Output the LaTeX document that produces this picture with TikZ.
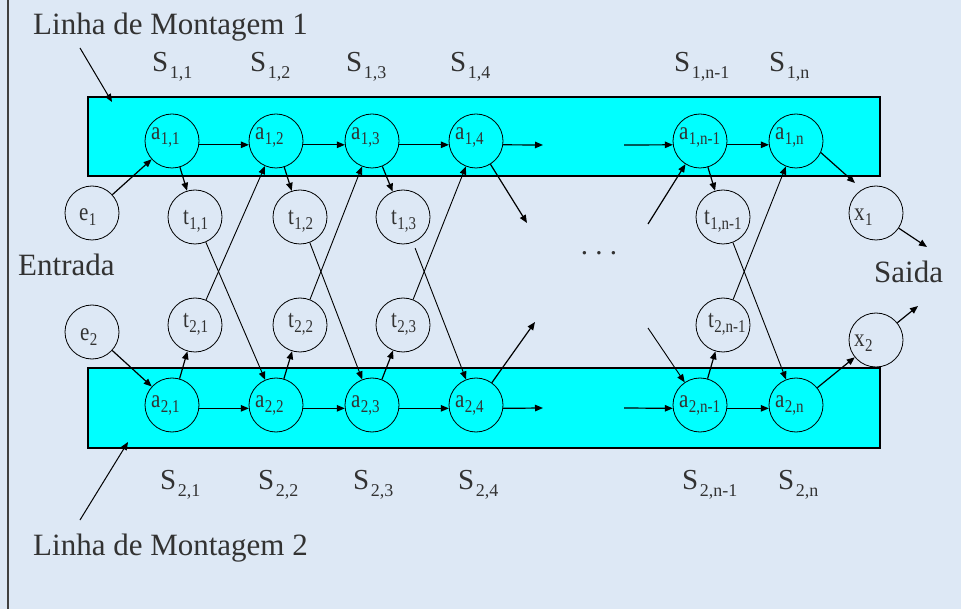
\documentclass[tikz,border=0pt]{standalone}
\usepackage{fontspec}
\setmainfont{Liberation Serif}
\usetikzlibrary{arrows.meta,calc}
\definecolor{bgblue}{RGB}{221,232,245}
\definecolor{txtgray}{RGB}{50,50,50}
\definecolor{lanecyan}{RGB}{0,255,255}
\newcommand{\clab}[4]{\makebox[0pt][l]{\hspace*{#1}\raisebox{#2}{\scalebox{1}[1.2]{\fontsize{21}{21}\selectfont #3\hspace{0.5pt}\raisebox{-3.5pt}{\fontsize{15}{15}\selectfont #4}}}}}
\newcommand{\slab}[1]{S\hspace{1.5pt}\raisebox{-7pt}{\fontsize{18}{18}\selectfont #1}}
\begin{document}
\begin{tikzpicture}[x=1pt,y=-1pt,
  circ/.style={circle,draw=black,line width=0.8pt,minimum size=54pt,inner sep=0pt,text height=0pt,text depth=0pt,text=txtgray},
  arr/.style={-{Triangle[length=8pt,width=6.5pt]},line width=1.2pt},
  thinarr/.style={-{Triangle[length=8pt,width=6.5pt]},line width=0.9pt},
  lane/.style={fill=lanecyan,draw=black,line width=1.2pt},
  bigtxt/.style={inner sep=0pt,text=txtgray,font=\fontsize{31}{36}\selectfont,anchor=base west},
  stxt/.style={inner sep=0pt,text=txtgray,font=\fontsize{29}{32}\selectfont,anchor=base west}]
\useasboundingbox (0,0) rectangle (961,609);
\fill[bgblue] (0,0) rectangle (961,609);
\draw[black!75,line width=2pt] (8,0) -- (8,609);
% lanes
\draw[lane] (88,97) rectangle (880,176);
\draw[lane] (88,368) rectangle (880,448);
% texts
\node[bigtxt] (lm1) at (33,35) {Linha de Montagem 1};
\node[bigtxt] (lm2) at (33,555) {Linha de Montagem 2};
\node[bigtxt] (ent) at (18,276) {Entrada};
\node[bigtxt] (sai) at (874,283) {Saida};
\node[inner sep=0pt,text=txtgray,font=\fontsize{29}{30}\selectfont,anchor=base] (dots) at (599,255) {.\ .\ .};
% S labels
\node[stxt] (s11) at (152,72) {\slab{1,1}};
\node[stxt] (s12) at (250,72) {\slab{1,2}};
\node[stxt] (s13) at (346,72) {\slab{1,3}};
\node[stxt] (s14) at (450,72) {\slab{1,4}};
\node[stxt] (s1n1) at (674,72) {\slab{1,n-1}};
\node[stxt] (s1n) at (769,72) {\slab{1,n}};
\node[stxt] (s21) at (160,489) {\slab{2,1}};
\node[stxt] (s22) at (258,489) {\slab{2,2}};
\node[stxt] (s23) at (353,489) {\slab{2,3}};
\node[stxt] (s24) at (458,489) {\slab{2,4}};
\node[stxt] (s2n1) at (682,489) {\slab{2,n-1}};
\node[stxt] (s2n) at (778,489) {\slab{2,n}};
% circles
\node[circ] (a11) at (172,141) {\clab{-21pt}{1pt}{a}{1,1}};
\node[circ] (a12) at (276,141) {\clab{-21pt}{1pt}{a}{1,2}};
\node[circ] (a13) at (372,141) {\clab{-21pt}{1pt}{a}{1,3}};
\node[circ] (a14) at (476,141) {\clab{-21pt}{1pt}{a}{1,4}};
\node[circ] (a1n1) at (700,141) {\clab{-21pt}{1pt}{a}{1,n-1}};
\node[circ] (a1n) at (796,141) {\clab{-21pt}{1pt}{a}{1,n}};
\node[circ] (a21) at (172,405) {\clab{-21pt}{-3pt}{a}{2,1}};
\node[circ] (a22) at (276,405) {\clab{-21pt}{-3pt}{a}{2,2}};
\node[circ] (a23) at (372,405) {\clab{-21pt}{-3pt}{a}{2,3}};
\node[circ] (a24) at (476,405) {\clab{-21pt}{-3pt}{a}{2,4}};
\node[circ] (a2n1) at (700,405) {\clab{-21pt}{-3pt}{a}{2,n-1}};
\node[circ] (a2n) at (796,405) {\clab{-21pt}{-3pt}{a}{2,n}};
\node[circ] (t11) at (195,217) {\clab{-12pt}{-8pt}{t}{1,1}};
\node[circ] (t12) at (300,217) {\clab{-12pt}{-8pt}{t}{1,2}};
\node[circ] (t13) at (403,217) {\clab{-12pt}{-8pt}{t}{1,3}};
\node[circ] (t1n1) at (723,217) {\clab{-19pt}{-8pt}{t}{1,n-1}};
\node[circ] (t21) at (195,325) {\clab{-12pt}{-3pt}{t}{2,1}};
\node[circ] (t22) at (300,325) {\clab{-12pt}{-3pt}{t}{2,2}};
\node[circ] (t23) at (403,325) {\clab{-12pt}{-3pt}{t}{2,3}};
\node[circ] (t2n1) at (723,325) {\clab{-15pt}{-3pt}{t}{2,n-1}};
\node[circ] (e1) at (92,213) {\clab{-13pt}{-8pt}{e}{1}};
\node[circ] (e2) at (92,332) {\clab{-12pt}{-9pt}{e}{2}};
\node[circ] (x1) at (876,213) {\clab{-22pt}{-8pt}{x}{1}};
\node[circ] (x2) at (876,340) {\clab{-22pt}{-7pt}{x}{2}};
% free ends
\coordinate (r1a) at (543,145);
\coordinate (r1b) at (624,145);
\coordinate (r2a) at (543,408);
\coordinate (r2b) at (624,408);
\coordinate (d1) at (527,223);
\coordinate (d2) at (535,322);
\coordinate (d3) at (648,224);
\coordinate (d4) at (648,328);
\coordinate (x1in) at (855,183);
\coordinate (o1) at (927,247);
\coordinate (o2) at (918,306);
\coordinate (l1s) at (80,48);
\coordinate (l1e) at (112,102);
\coordinate (l2s) at (80,520);
\coordinate (l2e) at (128,442);
% line 1 horizontal
\draw[arr] (a11.-8) -- (a12.188);
\draw[arr] (a12.-8) -- (a13.188);
\draw[arr] (a13.-8) -- (a14.188);
\draw[arr] (a14.-8) -- (r1a);
\draw[arr] (r1b) -- (a1n1.188);
\draw[arr] (a1n1.-8) -- (a1n.188);
% line 2 horizontal
\draw[arr] (a21.-7) -- (a22.187);
\draw[arr] (a22.-7) -- (a23.187);
\draw[arr] (a23.-7) -- (a24.187);
\draw[arr] (a24.-7) -- (r2a);
\draw[arr] (r2b) -- (a2n1.187);
\draw[arr] (a2n1.-7) -- (a2n.187);
% entries
\draw[arr] (e1) -- (a11);
\draw[arr] (e2) -- (a21);
% to transfer nodes
\draw[arr] (a11) -- (t11);
\draw[arr] (a12) -- (t12);
\draw[arr] (a13) -- (t13);
\draw[arr] (a1n1) -- (t1n1);
\draw[arr] (a21) -- (t21);
\draw[arr] (a22) -- (t22);
\draw[arr] (a23) -- (t23);
\draw[arr] (a2n1) -- (t2n1);
% crossings
\draw[thinarr] (t21) -- (a12);
\draw[thinarr] (t22) -- (a13);
\draw[thinarr] (t23) -- (a14);
\draw[thinarr] (t2n1) -- (a1n);
\draw[thinarr] (t11) -- (a22);
\draw[thinarr] (t12) -- (a23);
\draw[thinarr,shorten <=6pt] (t13) -- (a24);
\draw[thinarr] (t1n1) -- (a2n);
% gaps
\draw[arr] (a14) -- (d1);
\draw[arr] (a24) -- (d2);
\draw[arr] (d3) -- (a1n1);
\draw[thinarr] (d4) -- (a2n1);
% exits
\draw[arr] (a1n.-25) -- (x1in);
\draw[arr] (a2n) -- (x2);
\draw[arr] (x1) -- (o1);
\draw[arr] (x2) -- (o2);
% lane pointers
\draw[arr,line width=1pt] (l1s) -- (l1e);
\draw[arr,line width=1pt] (l2s) -- (l2e);
\end{tikzpicture}
\end{document}
